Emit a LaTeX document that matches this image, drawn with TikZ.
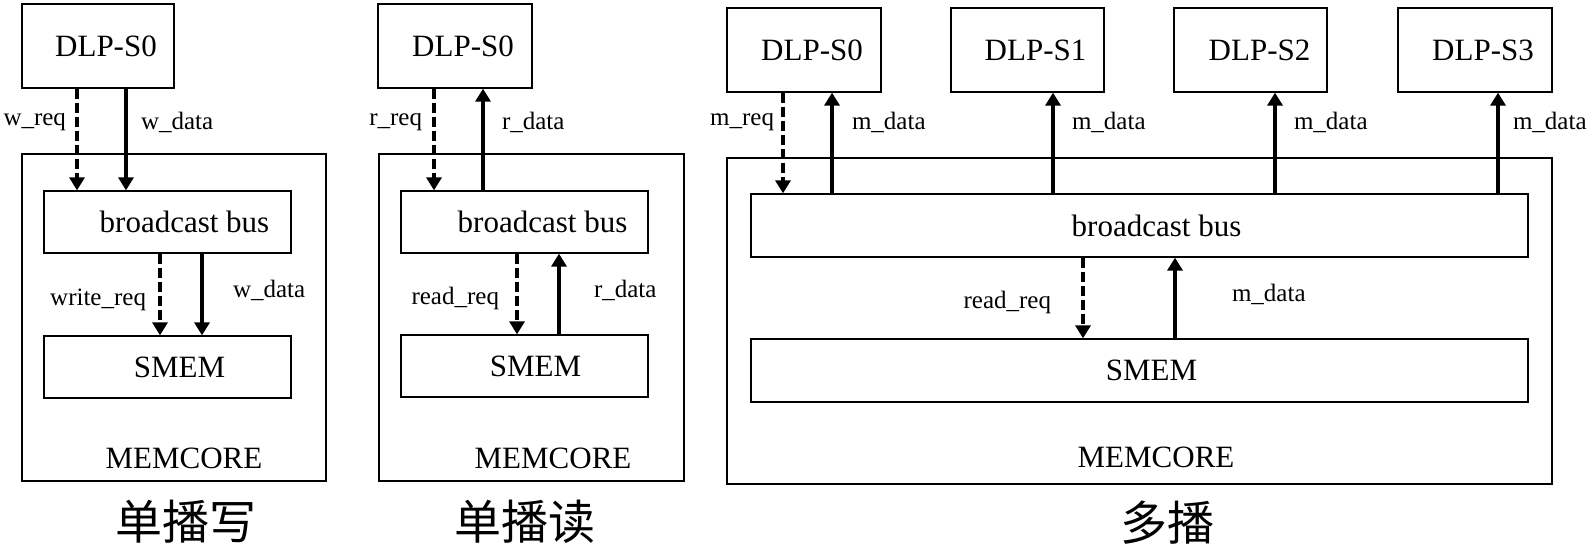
\documentclass[tikz,border=0pt]{standalone}
\usepackage{fontspec}
\setmainfont{Liberation Serif}
\newfontfamily\cjk{Noto Sans CJK SC}
\usetikzlibrary{arrows.meta}

\tikzset{
    box/.style={draw, line width=1.3pt, inner sep=0pt},
    big/.style={font=\fontsize{31}{36}\selectfont},
    lbl/.style={font=\fontsize{25}{28}\selectfont, inner sep=1pt},
    title/.style={font=\cjk\fontsize{47}{52}\selectfont},
    req/.style={-{Triangle[width=15pt,length=13pt]}, line width=4pt, dash pattern=on 10pt off 4pt},
    dat/.style={-{Triangle[width=15pt,length=13pt]}, line width=4pt}
}

\begin{document}
\begin{tikzpicture}[x=1pt, y=-1pt]
            \useasboundingbox (0,0) rectangle (1592,551);

            % unicast write
            \node[box, minimum width=152pt, minimum height=84pt, label={[big,xshift=8pt]center:DLP-S0}] (dlpA) at (98,46) {};
            \node[box, minimum width=304pt, minimum height=327pt] (memA) at (174,317.5) {};
            \node[box, minimum width=247pt, minimum height=62pt, label={[big,xshift=17pt]center:broadcast bus}] (busA) at (167.5,222) {};
            \node[box, minimum width=247pt, minimum height=62pt, label={[big,xshift=12pt]center:SMEM}] (smemA) at (167.5,367) {};
            \node[big] (memAtxt) at (184,458) {MEMCORE};
            \node[title] (titleA) at (186,522) {单播写};

            \draw[req] (dlpA.south -| 77,0) -- node[lbl, pos=.33, left=8pt] {w\_req} (busA.north -| 77,0);
            \draw[dat] (dlpA.south -| 126,0) -- node[lbl, pos=.33, right=12pt] {w\_data} (busA.north -| 126,0);
            \draw[req] (busA.south -| 160,0) -- node[lbl, pos=.57, left=11pt] {write\_req} (smemA.north -| 160,0);
            \draw[dat] (busA.south -| 202,0) -- node[lbl, pos=.45, right=28pt] {w\_data} (smemA.north -| 202,0);

            % unicast read
            \node[box, minimum width=154pt, minimum height=84pt, label={[big,xshift=8pt]center:DLP-S0}] (dlpB) at (455,46) {};
            \node[box, minimum width=305pt, minimum height=327pt] (memB) at (531.5,317.5) {};
            \node[box, minimum width=247pt, minimum height=62pt, label={[big,xshift=18pt]center:broadcast bus}] (busB) at (524.5,222) {};
            \node[box, minimum width=247pt, minimum height=62pt, label={[big,xshift=11pt]center:SMEM}] (smemB) at (524.5,366) {};
            \node[big] (memBtxt) at (553,458) {MEMCORE};
            \node[title] (titleB) at (525,522) {单播读};

            \draw[req] (dlpB.south -| 434,0) -- node[lbl, pos=.33, left=9pt] {r\_req} (busB.north -| 434,0);
            \draw[dat] (busB.north -| 483,0) -- node[lbl, pos=.67, right=16pt] {r\_data} (dlpB.south -| 483,0);
            \draw[req] (busB.south -| 517,0) -- node[lbl, pos=.55, left=15pt] {read\_req} (smemB.north -| 517,0);
            \draw[dat] (smemB.north -| 559,0) -- node[lbl, pos=.55, right=32pt] {r\_data} (busB.south -| 559,0);

            % multicast
            \node[box, minimum width=154pt, minimum height=84pt, label={[big,xshift=8pt]center:DLP-S0}] (dlpC0) at (804,50) {};
            \node[box, minimum width=153pt, minimum height=84pt, label={[big,xshift=8pt]center:DLP-S1}] (dlpC1) at (1027.5,50) {};
            \node[box, minimum width=153pt, minimum height=84pt, label={[big,xshift=9pt]center:DLP-S2}] (dlpC2) at (1250.5,50) {};
            \node[box, minimum width=154pt, minimum height=84pt, label={[big,xshift=8pt]center:DLP-S3}] (dlpC3) at (1475,50) {};
            \node[box, minimum width=825pt, minimum height=326pt] (memC) at (1139.5,321) {};
            \node[box, minimum width=777pt, minimum height=63pt, label={[big,xshift=17pt]center:broadcast bus}] (busC) at (1139.5,225.5) {};
            \node[box, minimum width=777pt, minimum height=63pt, label={[big,xshift=12pt]center:SMEM}] (smemC) at (1139.5,370.5) {};
            \node[big] (memCtxt) at (1156,457) {MEMCORE};
            \node[title] (titleC) at (1167,523) {多播};

            \draw[req] (dlpC0.south -| 783,0) -- node[lbl, pos=.29, left=6pt] {m\_req} (busC.north -| 783,0);
            \draw[dat] (busC.north -| 832,0) -- node[lbl, pos=.7, right=17pt] {m\_data} (dlpC0.south -| 832,0);
            \draw[dat] (busC.north -| 1053,0) -- node[lbl, pos=.7, right=16pt] {m\_data} (dlpC1.south -| 1053,0);
            \draw[dat] (busC.north -| 1275,0) -- node[lbl, pos=.7, right=16pt] {m\_data} (dlpC2.south -| 1275,0);
            \draw[dat] (busC.north -| 1498,0) -- node[lbl, pos=.7, right=12pt] {m\_data} (dlpC3.south -| 1498,0);
            \draw[req] (busC.south -| 1083,0) -- node[lbl, pos=.55, left=29pt] {read\_req} (smemC.north -| 1083,0);
            \draw[dat] (smemC.north -| 1175,0) -- node[lbl, pos=.54, right=54pt] {m\_data} (busC.south -| 1175,0);
\end{tikzpicture}
\end{document}
